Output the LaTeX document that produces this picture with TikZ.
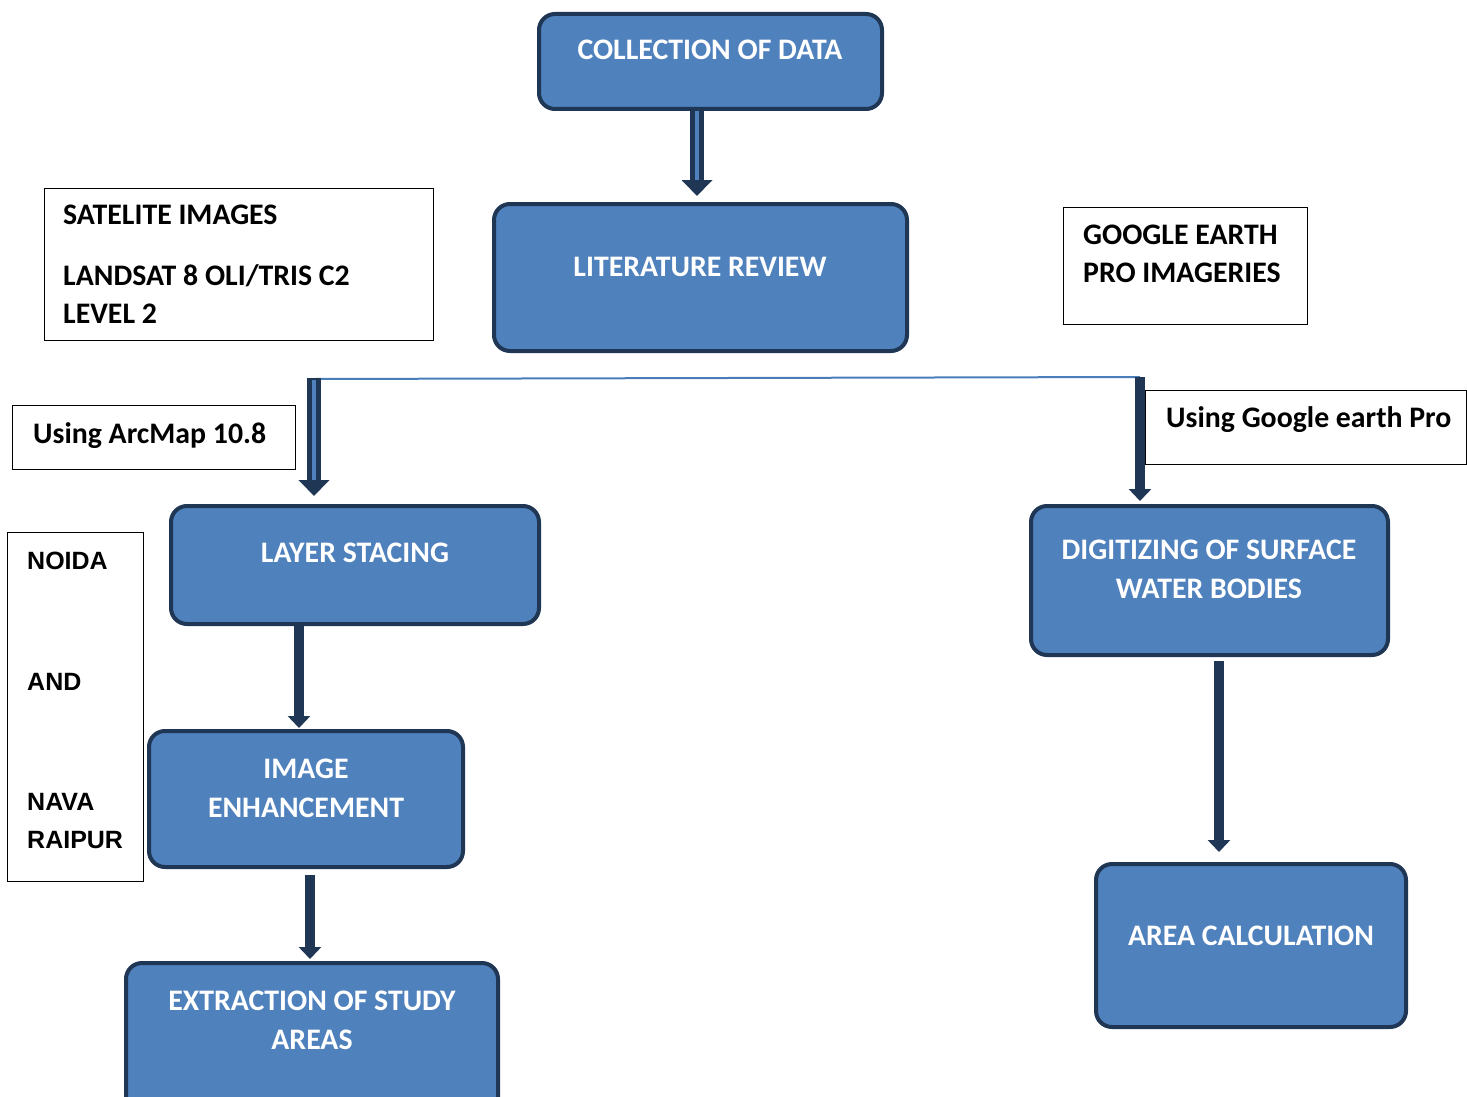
\documentclass[tikz,border=0pt]{standalone}
\usepackage{fontspec}
\setmainfont{Carlito}
\newfontfamily\arialish{Liberation Sans}
\usetikzlibrary{arrows.meta}
\definecolor{boxblue}{HTML}{4F81BD}
\definecolor{navy}{HTML}{1F3654}
\definecolor{lineblue}{HTML}{4A7EBB}
\begin{document}
\begin{tikzpicture}[x=1pt,y=-1pt,
  bbox/.style={draw=navy, line width=4pt, fill=boxblue, rounded corners=16pt, inner sep=0pt, outer sep=0pt, anchor=north west},
  tbox/.style={draw=black, line width=1pt, inner sep=0pt, outer sep=0pt, anchor=north west},
  wtext/.style={text=white, font=\fontsize{29.8}{34}\selectfont\bfseries, anchor=base, inner sep=0pt},
  ktext/.style={text=black, font=\fontsize{29.8}{34}\selectfont\bfseries, anchor=base west, inner sep=0pt},
  atext/.style={text=black, font=\fontsize{25}{29}\selectfont\arialish\bfseries, anchor=base west, inner sep=0pt},
  dblarrow/.style={draw=navy, line width=14pt, -{Triangle[width=30pt,length=16pt]},
     postaction={draw=boxblue, line width=4pt, -, shorten >=16pt, shorten <=2pt}},
  solidarrow/.style={draw=navy, line width=10pt, -{Triangle[width=22pt,length=12pt]}},
  hline/.style={draw=lineblue, line width=2pt}
]
\useasboundingbox (0,0) rectangle (1467,1097);
% blue boxes
\node[bbox, minimum width=343pt, minimum height=95pt] (coll) at (539,14) {};
\node[bbox, minimum width=413pt, minimum height=147pt] (lit) at (494,204) {};
\node[bbox, minimum width=368pt, minimum height=118pt] (layer) at (171,506) {};
\node[bbox, minimum width=314pt, minimum height=136pt] (img) at (149,731) {};
\node[bbox, minimum width=372pt, minimum height=150pt] (extr) at (126,963) {};
\node[bbox, minimum width=357pt, minimum height=149pt] (dig) at (1031,506) {};
\node[bbox, minimum width=310pt, minimum height=163pt] (area) at (1096,864) {};
% white texts
\node[wtext] (tcoll) at (710,60) {COLLECTION OF DATA};
\node[wtext] (tlit) at (700,276) {LITERATURE REVIEW};
\node[wtext] (tlayer) at (355,562) {LAYER STACING};
\node[wtext] (tdig1) at (1209,559) {DIGITIZING OF SURFACE};
\node[wtext] (tdig2) at (1209,598) {WATER BODIES};
\node[wtext] (timg1) at (306,778) {IMAGE};
\node[wtext] (timg2) at (306,817) {ENHANCEMENT};
\node[wtext] (textr1) at (312,1010) {EXTRACTION OF STUDY};
\node[wtext] (textr2) at (312,1049) {AREAS};
\node[wtext] (tarea) at (1251,945) {AREA CALCULATION};
% black boxes
\node[tbox, minimum width=389pt, minimum height=152pt] (sat) at (44.5,188.5) {};
\node[tbox, minimum width=244pt, minimum height=117pt] (gep) at (1063.5,207.5) {};
\node[tbox, minimum width=283pt, minimum height=64pt] (arc) at (12.5,405.5) {};
\node[tbox, minimum width=321pt, minimum height=74pt] (uge) at (1145.5,390.5) {};
\node[tbox, minimum width=136pt, minimum height=349pt] (noida) at (7.5,532.5) {};
% black texts
\node[ktext] (ts1) at (63,224) {SATELITE IMAGES};
\node[ktext] (ts2) at (63,285) {LANDSAT 8 OLI/TRIS C2};
\node[ktext] (ts3) at (63,323) {LEVEL 2};
\node[ktext] (tg1) at (1083,244) {GOOGLE EARTH};
\node[ktext] (tg2) at (1083,282) {PRO IMAGERIES};
\node[ktext] (tarc) at (33,443) {Using ArcMap 10.8};
\node[ktext] (tuge) at (1166,427) {Using Google earth Pro};
\node[atext] (tn1) at (27,569) {NOIDA};
\node[atext] (tn2) at (27,690) {AND};
\node[atext] (tn3) at (27,810) {NAVA};
\node[atext] (tn4) at (27,848) {RAIPUR};
% connectors
\coordinate (bl) at (314,379);
\coordinate (br) at (1140,377);
\draw[hline] (bl) -- (br);
\draw[dblarrow] (coll.south -| 697,0) -- ([yshift=8pt]lit.north -| 697,0);
\draw[dblarrow] ([yshift=1pt]bl) -- ([yshift=10pt]layer.north -| bl);
\draw[solidarrow] (br) -- ([yshift=5pt]dig.north -| br);
\draw[solidarrow] (layer.south -| 299,0) -- ([yshift=3pt]img.north -| 299,0);
\draw[solidarrow] ([yshift=-8pt]img.south -| 310,0) -- ([yshift=4pt]extr.north -| 310,0);
\draw[solidarrow] ([yshift=-6pt]dig.south -| 1219,0) -- ([yshift=12pt]area.north -| 1219,0);
\end{tikzpicture}
\end{document}
